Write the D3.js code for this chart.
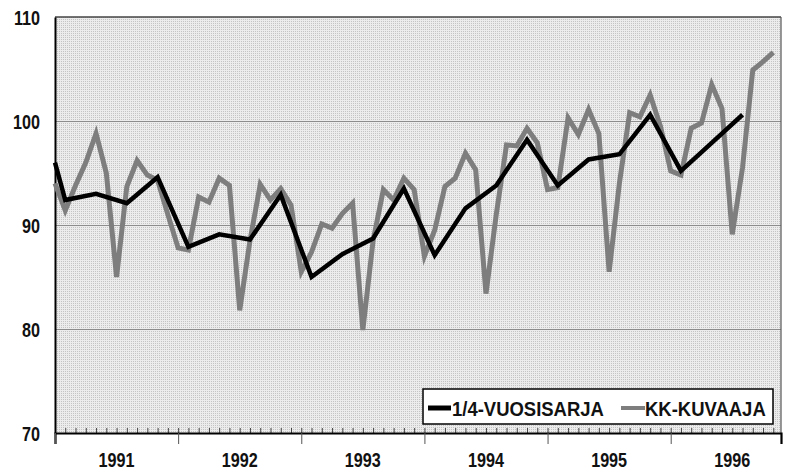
<!DOCTYPE html>
<html>
<head>
<meta charset="utf-8">
<script src="https://cdn.jsdelivr.net/npm/d3@7"></script>
<style>
  body { margin: 0; background: #fff; }
  svg { display: block; }
  text { font-family: "Liberation Sans", Arial, sans-serif; fill: #111; font-weight: bold; }
</style>
</head>
<body>
<svg width="785" height="472"></svg>
<script>
// year labels on the x axis
const years = ['1991', '1992', '1993', '1994', '1995', '1996'];

// KK-KUVAAJA, monthly values Jan 1991 .. Nov 1996
const kkValues = [
  94.0, 91.4, 93.8, 96.0, 98.8, 95.0, 85.0, 93.7, 96.2, 94.8, 94.3, 91.0,
  87.8, 87.6, 92.7, 92.2, 94.5, 93.8, 81.8, 88.5, 93.9, 92.4, 93.5, 91.9,
  85.5, 87.4, 90.1, 89.7, 91.1, 92.1, 79.9, 88.5, 93.4, 92.4, 94.5, 93.4,
  87.0, 89.5, 93.7, 94.5, 96.9, 95.3, 83.4, 91.0, 97.7, 97.6, 99.3, 97.9,
  93.4, 93.6, 100.3, 98.7, 101.1, 98.8, 85.5, 94.0, 100.8, 100.4, 102.5, 99.5,
  95.2, 94.8, 99.3, 99.8, 103.5, 101.2, 89.1, 95.5, 104.9, 105.7, 106.6
];

// 1/4-VUOSISARJA, quarterly values placed at the middle month of the quarter
const quarterMonths = [0, 1, 4, 7, 10, 13, 16, 19, 22, 25, 28, 31, 34, 37, 40, 43, 46, 49, 52, 55, 58, 61, 64, 67];
const quarterValues = [96.0, 92.4, 93.0, 92.1, 94.6, 87.9, 89.1, 88.6, 92.9, 85.0, 87.2, 88.7,
                       93.5, 87.1, 91.6, 93.8, 98.2, 93.8, 96.3, 96.8, 100.6, 95.2, 97.9, 100.6];

const yTicks = [70, 80, 90, 100, 110];
const gridTicks = [80, 90, 100];

const legendLabels = ['1/4-VUOSISARJA', 'KK-KUVAAJA'];

const margin = { top: 17, right: 4, bottom: 39, left: 55 };
const width = 785 - margin.left - margin.right;
const height = 472 - margin.top - margin.bottom;

const svg = d3.select('svg');

// condensed look: squeeze the text horizontally
function squeezed(sel, sx) {
  return sel.attr('transform', d => `translate(${d.x},${d.y}) scale(${sx},1)`);
}

// halftone look for the plot background
const defs = svg.append('defs');
const pat = defs.append('pattern')
  .attr('id', 'dots')
  .attr('width', 2).attr('height', 2)
  .attr('patternUnits', 'userSpaceOnUse');
pat.append('rect').attr('width', 2).attr('height', 2).attr('fill', '#ececec');
pat.append('rect').attr('width', 1).attr('height', 1).attr('fill', '#c4c4c4');

const g = svg.append('g')
  .attr('transform', `translate(${margin.left},${margin.top})`);

const x = d3.scaleLinear()
  .domain([0, 70.75])
  .range([0, width]);

const y = d3.scaleLinear()
  .domain([70, 110])
  .range([height, 0]);

g.append('rect')
  .attr('width', width)
  .attr('height', height)
  .attr('fill', 'url(#dots)');

// grid lines
g.append('g')
  .call(d3.axisLeft(y).tickValues(gridTicks).tickSize(-width).tickFormat(''))
  .call(s => s.select('.domain').remove())
  .selectAll('line')
  .attr('stroke', '#8c8c8c')
  .attr('stroke-width', 1);

// frame: top and right
g.append('line')
  .attr('x1', 0).attr('x2', width).attr('y1', 0).attr('y2', 0)
  .attr('stroke', '#444').attr('stroke-width', 1.5);
g.append('line')
  .attr('x1', width).attr('x2', width).attr('y1', 0).attr('y2', height)
  .attr('stroke', '#555').attr('stroke-width', 1.2);

// y axis line
const yAxis = g.append('g')
  .call(d3.axisLeft(y).tickValues(yTicks).tickSize(0).tickFormat(''));
yAxis.select('.domain').attr('stroke', '#000').attr('stroke-width', 2);

// y labels
g.append('g')
  .selectAll('text')
  .data(yTicks.map(v => ({ v: v, x: -15, y: y(v) + 7.5 })))
  .join('text')
  .attr('text-anchor', 'end')
  .attr('font-size', 21)
  .call(squeezed, 0.77)
  .text(d => d.v);

// monthly minor ticks (pointing up into plot)
const monthIdx = kkValues.map((d, i) => i);
g.append('g')
  .attr('transform', `translate(0,${height})`)
  .call(d3.axisBottom(x).tickValues(monthIdx.slice(1)).tickSize(-5).tickFormat(''))
  .call(s => s.select('.domain').remove())
  .selectAll('line')
  .attr('stroke', '#444')
  .attr('stroke-width', 1);

// year boundaries: major ticks below the axis
const xAxis = g.append('g')
  .attr('transform', `translate(0,${height})`)
  .call(d3.axisBottom(x).tickValues(years.map((d, i) => i * 12)).tickSize(11).tickFormat(''));
xAxis.select('.domain').attr('stroke', '#000').attr('stroke-width', 2.2);
xAxis.selectAll('line').attr('stroke', '#555').attr('stroke-width', 1);

// year labels centred in each year
g.append('g')
  .selectAll('text')
  .data(years.map((d, i) => ({ t: d, x: x(i * 12 + 6), y: height + 34 })))
  .join('text')
  .attr('text-anchor', 'middle')
  .attr('font-size', 21)
  .call(squeezed, 0.77)
  .text(d => d.t);

const line = d3.line()
  .x(d => x(d[0]))
  .y(d => y(d[1]));

// monthly series
g.append('path')
  .datum(kkValues.map((v, i) => [i, v]))
  .attr('fill', 'none')
  .attr('stroke', '#7e7e7e')
  .attr('stroke-width', 5)
  .attr('stroke-linejoin', 'miter')
  .attr('d', line);

// quarterly series
g.append('path')
  .datum(quarterValues.map((v, i) => [quarterMonths[i], v]))
  .attr('fill', 'none')
  .attr('stroke', '#000')
  .attr('stroke-width', 4.5)
  .attr('stroke-linejoin', 'miter')
  .attr('d', line);

// legend
const lg = svg.append('g').attr('transform', 'translate(423,389)');
lg.append('rect')
  .attr('width', 350).attr('height', 35)
  .attr('fill', '#fff')
  .attr('stroke', '#000').attr('stroke-width', 1.5);
lg.append('line')
  .attr('x1', 5).attr('x2', 28).attr('y1', 19).attr('y2', 19)
  .attr('stroke', '#000').attr('stroke-width', 5);
lg.append('line')
  .attr('x1', 198).attr('x2', 222).attr('y1', 19).attr('y2', 19)
  .attr('stroke', '#7e7e7e').attr('stroke-width', 4);
lg.selectAll('text')
  .data([{ t: legendLabels[0], x: 29, y: 27 }, { t: legendLabels[1], x: 222, y: 27 }])
  .join('text')
  .attr('font-size', 21)
  .call(squeezed, 0.88)
  .text(d => d.t);
</script>
</body>
</html>
